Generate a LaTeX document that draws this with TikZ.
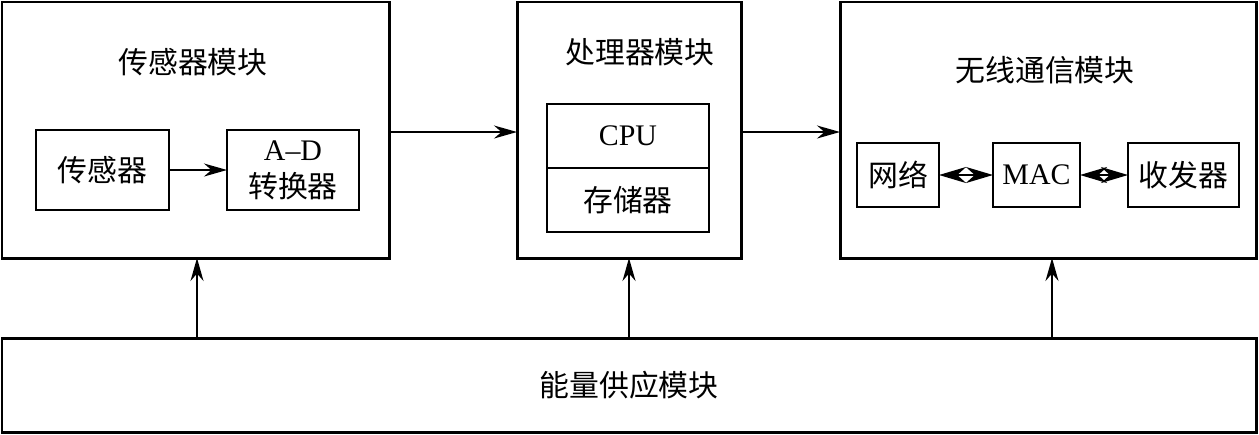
\documentclass[tikz,border=0pt]{standalone}
\usepackage{fontspec}
\setmainfont{Liberation Serif}
\newfontfamily\cjk{Noto Sans CJK SC}
\usepackage{tikz}
\usetikzlibrary{arrows.meta, positioning}

\begin{document}
\begin{tikzpicture}[
        font=\fontsize{17}{21}\selectfont,
        module/.style={rectangle, draw, line width=1.7pt, inner sep=0pt, outer sep=0pt},
        unit/.style={rectangle, draw, line width=1.5pt, inner sep=0pt, outer sep=0pt, align=center},
        arr/.style={-{Stealth[length=4.6mm, width=2.6mm]}, line width=1pt},
        duplex/.style={{Stealth[length=5.4mm, width=3.2mm]}-{Stealth[length=5.4mm, width=3.2mm]}, line width=1.4pt}
    ]
        \useasboundingbox (0,0) rectangle (25.18,-8.68);
        % modules
        \node[module, minimum width=7.74cm, minimum height=5.12cm] (sens) at (3.91,-2.60) {};
        \node[module, minimum width=4.48cm, minimum height=5.12cm] (proc) at (12.58,-2.60) {};
        \node[module, minimum width=8.32cm, minimum height=5.12cm] (wless) at (20.96,-2.60) {};
        \node[module, minimum width=25.08cm, minimum height=1.88cm] (power) at (12.58,-7.70) {\cjk 能量供应模块};
        \node (senstitle) at (3.86,-1.24) {\cjk 传感器模块};
        \node (proctitle) at (12.80,-1.04) {\cjk 处理器模块};
        \node (wlesstitle) at (20.90,-1.40) {\cjk 无线通信模块};
        % sensor units
        \node[unit, minimum width=2.66cm, minimum height=1.60cm] (sensor) at (2.05,-3.40) {\cjk 传感器};
        \node[unit, minimum width=2.64cm, minimum height=1.60cm] (adc) at (5.86,-3.40) {A--D\\{\cjk 转换器}};
        \draw[arr] (sensor)--(adc);
        % processor units
        \node[unit, minimum width=3.24cm, minimum height=1.28cm] (cpu) at (12.56,-2.72) {CPU};
        \node[unit, minimum width=3.24cm, minimum height=1.28cm, below=0pt of cpu] (mem) {\cjk 存储器};
        % wireless units
        \node[unit, minimum width=1.64cm, minimum height=1.28cm] (net) at (17.96,-3.50) {\cjk 网络};
        \node[unit, minimum width=1.74cm, minimum height=1.28cm] (mac) at (20.73,-3.50) {MAC};
        \node[unit, minimum width=2.22cm, minimum height=1.28cm] (trx) at (23.67,-3.50) {\cjk 收发器};
        \draw[duplex] (net)--(mac);
        \draw[duplex] (mac)--(trx);
        % data flow
        \draw[arr] (sens.east |- 0,-2.64)--(proc.west |- 0,-2.64);
        \draw[arr] (proc.east |- 0,-2.64)--(wless.west |- 0,-2.64);
        % power supply
        \draw[arr] (power.north -| 3.94,0)--(sens.south -| 3.94,0);
        \draw[arr] (power.north -| 12.58,0)--(proc.south -| 12.58,0);
        \draw[arr] (power.north -| 21.04,0)--(wless.south -| 21.04,0);
    \end{tikzpicture}
\end{document}
